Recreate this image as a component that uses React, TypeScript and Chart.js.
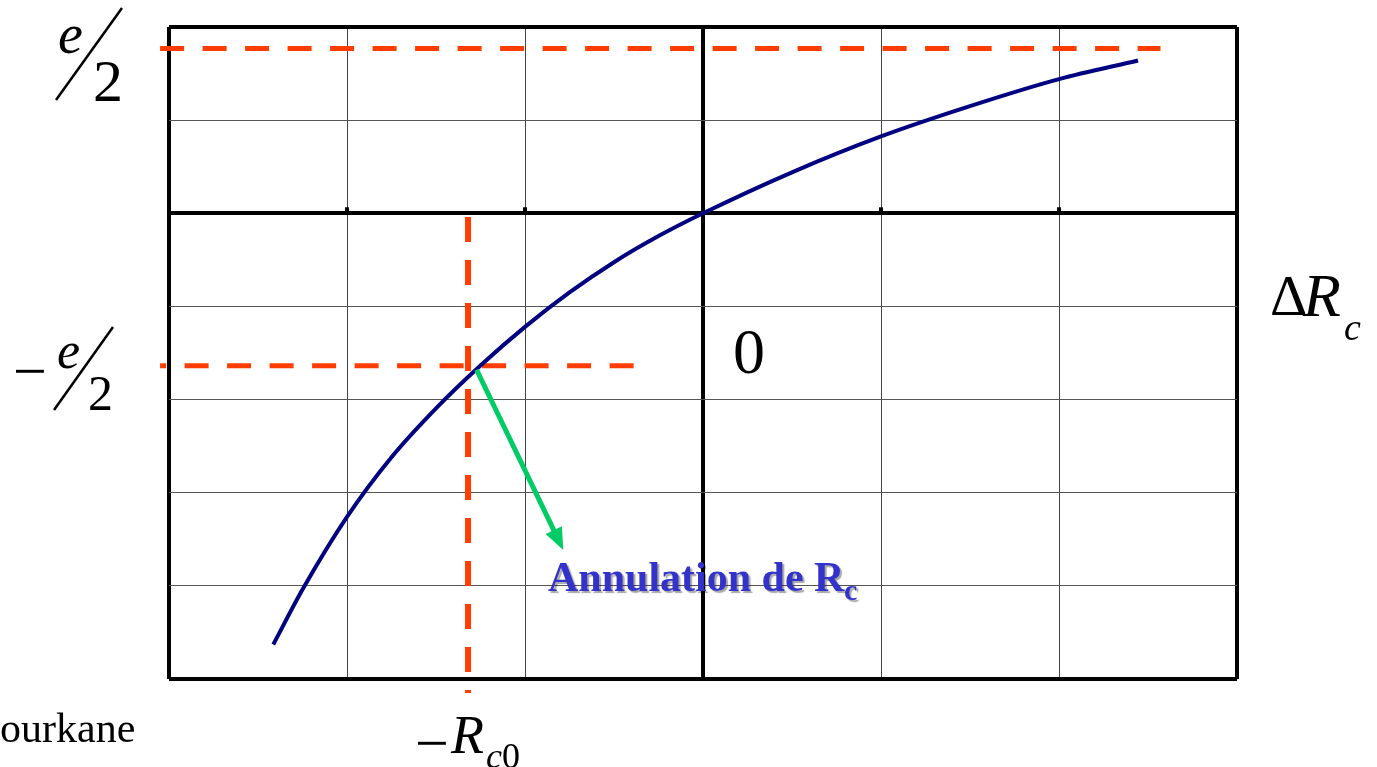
import React, { useEffect, useRef } from "react";
import { Chart, registerables } from "chart.js";

Chart.register(...registerables);

// Curve ΔRc (x in grid columns, y in grid rows)
const curveX = [-2.414, -2.25, -2.0, -1.75, -1.5, -1.25, -1.0, -0.75, -0.5, -0.25, 0, 0.5, 1.0, 1.5, 2.0, 2.444];
const curveY = [-4.63, -4.04, -3.26, -2.62, -2.095, -1.635, -1.22, -0.85, -0.525, -0.245, 0, 0.44, 0.825, 1.15, 1.44, 1.64];

// Axis range / grid ticks
const xTicks = [-3, -2, -1, 0, 1, 2, 3];
const yTicks = [-5, -4, -3, -2, -1, 0, 1, 2];

// Red dashed guide lines
const halfE = 1.77;
const minusHalfE = -1.636;
const topGuideX = [-3.05, 2.57];
const midGuideX = [-3.05, -0.39];
const rc0 = -1.32;
const rc0GuideY = [-0.04, -5.15];

// Green arrow (from curve point to label)
const arrowFrom = [-1.272, -1.68];
const arrowTo = [-0.785, -3.614];

const RED = "#FF3D00";
const NAVY = "#000080";
const GREEN = "#00CC66";

const annotations = {
  id: "annotations",
  beforeDatasetsDraw(chart: any) {
    const { ctx, scales } = chart;
    const y0 = scales.y.getPixelForValue(0);
    ctx.save();
    ctx.fillStyle = "#000";
    xTicks.forEach((v, i) => {
      if (v === 0 || i === 0 || i === xTicks.length - 1) return;
      const px = scales.x.getPixelForValue(v);
      ctx.fillRect(px - 2, y0 - 6, 4, 6);
    });
    ctx.restore();
  },
  afterDatasetsDraw(chart: any) {
    const { ctx, scales } = chart;
    const xs = scales.x;
    const ys = scales.y;
    const x1 = xs.getPixelForValue(arrowFrom[0]);
    const y1 = ys.getPixelForValue(arrowFrom[1]);
    const x2 = xs.getPixelForValue(arrowTo[0]);
    const y2 = ys.getPixelForValue(arrowTo[1]);
    const ang = Math.atan2(y2 - y1, x2 - x1);
    const headLen = 22;
    const headW = 9;
    ctx.save();
    ctx.strokeStyle = GREEN;
    ctx.fillStyle = GREEN;
    ctx.lineWidth = 5;
    ctx.beginPath();
    ctx.moveTo(x1, y1);
    ctx.lineTo(x2 - Math.cos(ang) * (headLen - 2), y2 - Math.sin(ang) * (headLen - 2));
    ctx.stroke();
    ctx.beginPath();
    ctx.moveTo(x2, y2);
    const bx = x2 - Math.cos(ang) * headLen;
    const by = y2 - Math.sin(ang) * headLen;
    ctx.lineTo(bx + Math.sin(ang) * headW, by - Math.cos(ang) * headW);
    ctx.lineTo(bx - Math.sin(ang) * headW, by + Math.cos(ang) * headW);
    ctx.closePath();
    ctx.fill();
    ctx.restore();
  },
  afterDraw(chart: any) {
    const { ctx } = chart;
    ctx.save();
    ctx.fillStyle = "#000";
    ctx.strokeStyle = "#000";
    ctx.textBaseline = "alphabetic";
    ctx.textAlign = "left";
    const serif = "'Liberation Serif', 'Times New Roman', serif";

    // e/2 (top)
    ctx.font = `italic 56px ${serif}`;
    ctx.fillText("e", 58, 53);
    ctx.font = `60px ${serif}`;
    ctx.fillText("2", 93, 101);
    ctx.lineWidth = 2.5;
    ctx.beginPath();
    ctx.moveTo(56, 100);
    ctx.lineTo(122, 8);
    ctx.stroke();

    // −e/2
    ctx.font = `60px ${serif}`;
    ctx.fillText("\u2212", 13, 391);
    ctx.font = `italic 52px ${serif}`;
    ctx.fillText("e", 57, 368);
    ctx.font = `50px ${serif}`;
    ctx.fillText("2", 88, 410);
    ctx.beginPath();
    ctx.moveTo(54, 410);
    ctx.lineTo(113, 327);
    ctx.stroke();

    // ΔRc
    ctx.font = `58px ${serif}`;
    ctx.fillText("\u0394", 1270, 315);
    ctx.font = `italic 62px ${serif}`;
    ctx.fillText("R", 1303, 316);
    ctx.font = `italic 38px ${serif}`;
    ctx.fillText("c", 1344, 340);

    // 0
    ctx.font = `64px ${serif}`;
    ctx.fillText("0", 733, 373);

    // −Rc0
    ctx.font = `60px ${serif}`;
    ctx.fillText("\u2212", 415, 763);
    ctx.font = `italic 54px ${serif}`;
    ctx.fillText("R", 451, 753);
    ctx.font = `italic 36px ${serif}`;
    ctx.fillText("c", 486, 768);
    ctx.font = `36px ${serif}`;
    ctx.fillText("0", 502, 768);

    // author (clipped at the page edge)
    ctx.font = `42px ${serif}`;
    const sW = ctx.measureText("s").width;
    ctx.fillText("sourkane", 0 - sW, 742);

    // Annulation de Rc
    ctx.shadowColor = "rgba(0,0,0,0.35)";
    ctx.shadowOffsetX = 2;
    ctx.shadowOffsetY = 2;
    ctx.shadowBlur = 1;
    ctx.fillStyle = "#3333CC";
    ctx.font = `bold 42px ${serif}`;
    ctx.fillText("Annulation de R", 548, 591);
    ctx.font = `bold 30px ${serif}`;
    ctx.fillText("c", 844, 600);
    ctx.restore();
  },
};

export default function App() {
  const ref = useRef<HTMLCanvasElement | null>(null);
  useEffect(() => {
    if (!ref.current) return;
    const curve = curveX.map((x, i) => ({ x, y: curveY[i] }));
    const chart = new Chart(ref.current, {
      type: "line",
      data: {
        datasets: [
          {
            data: curve,
            borderColor: NAVY,
            borderWidth: 4,
            pointRadius: 0,
            cubicInterpolationMode: "monotone",
            order: 0,
          },
          {
            data: topGuideX.map((x) => ({ x, y: halfE })),
            borderColor: RED,
            borderWidth: 5,
            borderDash: [24, 18.5],
            borderDashOffset: 0,
            pointRadius: 0,
            clip: false,
            order: 1,
          },
          {
            data: midGuideX.map((x) => ({ x, y: minusHalfE })),
            borderColor: RED,
            borderWidth: 5,
            borderDash: [24, 18.5],
            borderDashOffset: 18,
            pointRadius: 0,
            clip: false,
            order: 1,
          },
          {
            data: rc0GuideY.map((y) => ({ x: rc0, y })),
            borderColor: RED,
            borderWidth: 6,
            borderDash: [25, 18],
            pointRadius: 0,
            clip: false,
            order: 1,
          },
        ] as any,
      },
      options: {
        animation: false,
        responsive: false,
        events: [],
        layout: { autoPadding: false, padding: { left: 169, right: 140, top: 27, bottom: 88 } },
        plugins: { legend: { display: false }, tooltip: { enabled: false }, title: { display: false } },
        scales: {
          x: {
            type: "linear",
            min: xTicks[0],
            max: xTicks[xTicks.length - 1],
            afterBuildTicks: (s: any) => {
              s.ticks = xTicks.map((v) => ({ value: v }));
            },
            ticks: { display: false },
            border: { display: false },
            grid: {
              drawTicks: false,
              color: (c: any) => (isThick(c, xTicks) ? "#000" : "#444"),
              lineWidth: (c: any) => (isThick(c, xTicks) ? 4 : 1),
            },
          },
          y: {
            type: "linear",
            min: yTicks[0],
            max: yTicks[yTicks.length - 1],
            afterBuildTicks: (s: any) => {
              s.ticks = yTicks.map((v) => ({ value: v }));
            },
            ticks: { display: false },
            border: { display: false },
            grid: {
              drawTicks: false,
              color: (c: any) => (isThick(c, yTicks) ? "#000" : "#555"),
              lineWidth: (c: any) => (isThick(c, yTicks) ? 4 : 1),
            },
          },
        },
      } as any,
      plugins: [annotations],
    });
    return () => chart.destroy();
  }, []);
  return (
    <div style={{ position: "fixed", left: 0, top: 0, width: 1377, height: 767, background: "#fff" }}>
      <canvas ref={ref} width={1377} height={767} style={{ display: "block" }} />
    </div>
  );
}

function isThick(c: any, ticks: number[]) {
  const v = c.tick ? c.tick.value : undefined;
  return v === 0 || v === ticks[0] || v === ticks[ticks.length - 1];
}
